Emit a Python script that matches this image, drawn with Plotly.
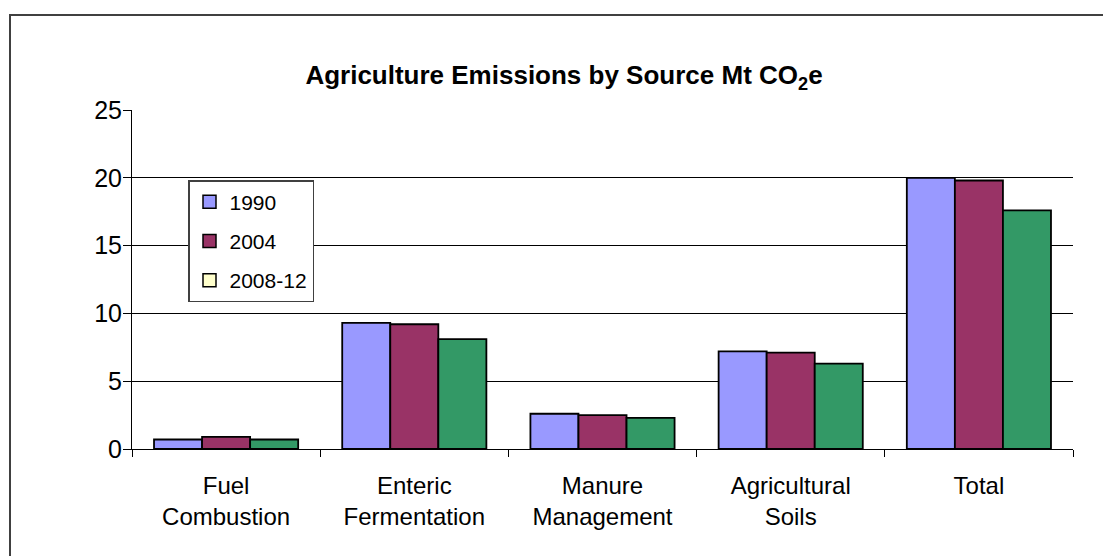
import plotly.graph_objects as go

# Agriculture emissions by source, Mt CO2e
categories = ["Fuel<br>Combustion", "Enteric<br>Fermentation", "Manure<br>Management",
              "Agricultural<br>Soils", "Total"]
years = ["1990", "2004", "2008-12"]
values_1990 = [0.7, 9.3, 2.6, 7.2, 20.0]
values_2004 = [0.9, 9.2, 2.5, 7.1, 19.8]
values_2008_12 = [0.7, 8.1, 2.3, 6.3, 17.6]
y_ticks = [0, 5, 10, 15, 20, 25]

bar_colors = ["#9999FF", "#993366", "#339966"]
legend_colors = ["#9999FF", "#993366", "#FFFFCC"]

FONT = "Arial, Liberation Sans, sans-serif"

fig = go.Figure()
for name, vals, col in zip(years, [values_1990, values_2004, values_2008_12], bar_colors):
    fig.add_trace(go.Bar(
        x=categories, y=vals, name=name, showlegend=False,
        marker=dict(color=col, line=dict(color="black", width=1.8)),
    ))

# legend entries (square swatches)
for name, col in zip(years, legend_colors):
    fig.add_trace(go.Scatter(
        x=[None], y=[None], mode="markers", name=name, legendgroup=name,
        marker=dict(symbol="square", size=13, color=col, line=dict(color="black", width=1.5)),
    ))

L, R, T, B = 132, 30, 110, 107
W, H = 1103, 556
pw = W - L - R
ph = H - T - B

fig.update_layout(
    width=W, height=H,
    margin=dict(l=L, r=R, t=T, b=B),
    paper_bgcolor="white", plot_bgcolor="white",
    font=dict(family=FONT, color="black"),
    barmode="group", bargap=0.234, bargroupgap=0,
    title=dict(
        text="<b>Agriculture Emissions by Source Mt CO<sub>2</sub>e</b>",
        font=dict(size=26, family=FONT, color="black"),
        xref="paper", x=(564 - L) / pw, xanchor="center",
        yref="container", y=1 - 75 / H, yanchor="middle",
    ),
    legend=dict(
        x=(188 - L) / pw, y=(H - B - 180) / ph, xanchor="left", yanchor="top",
        bgcolor="white", bordercolor="#404040", borderwidth=1.5,
        font=dict(size=21, family=FONT, color="black"),
        traceorder="grouped", tracegroupgap=9,
        itemwidth=30,
    ),
    xaxis=dict(
        showline=True, linecolor="black", linewidth=1,
        ticks="outside", ticklen=7, tickcolor="black", tickson="boundaries",
        tickfont=dict(size=24, family=FONT, color="black"),
        ticklabelstandoff=15,
        showgrid=False,
    ),
    yaxis=dict(
        range=[0, 25], tickvals=y_ticks,
        showline=True, linecolor="black", linewidth=1,
        ticks="outside", ticklen=8, tickcolor="black",
        tickfont=dict(size=25, family=FONT, color="black"),
        ticklabelstandoff=-4,
        showgrid=True, gridcolor="black", gridwidth=1,
        zeroline=False,
    ),
    shapes=[dict(
        type="rect", xref="paper", yref="paper",
        x0=(10 - L) / pw, x1=(W + 20 - L) / pw,
        y0=-(B + 30) / ph, y1=(H - B - 15) / ph,
        line=dict(color="#404040", width=2), fillcolor="rgba(0,0,0,0)", layer="below",
    )],
)

fig.write_html("out.html")
